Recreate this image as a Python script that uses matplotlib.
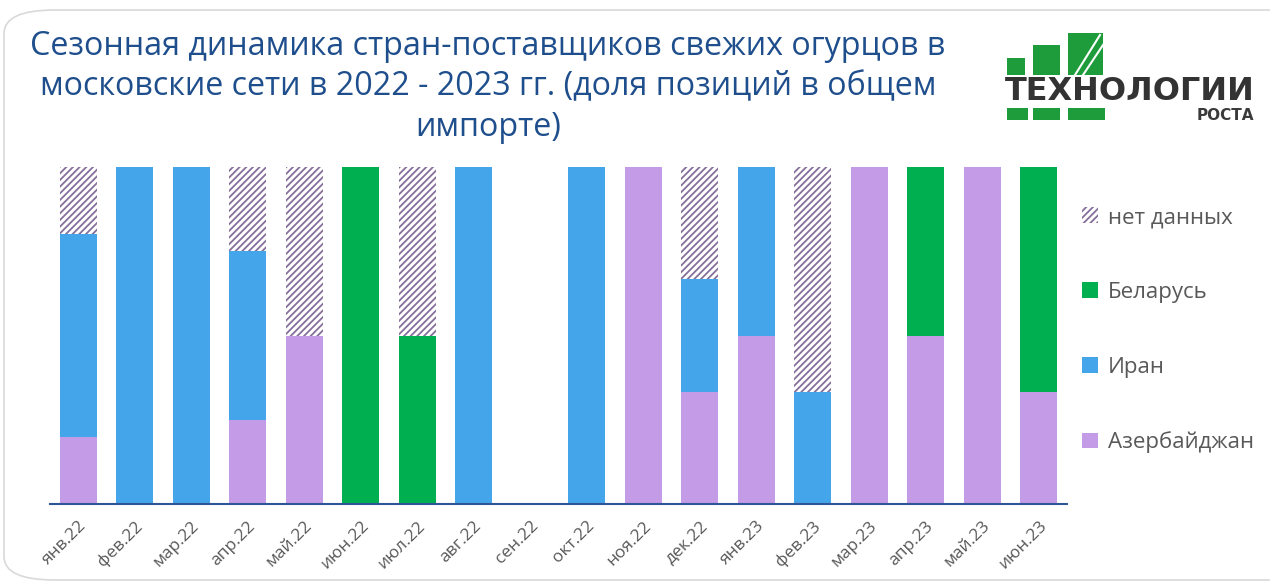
import matplotlib.pyplot as plt
from matplotlib.patches import Patch, Rectangle, FancyBboxPatch
import numpy as np

months = ["янв.22", "фев.22", "мар.22", "апр.22", "май.22", "июн.22", "июл.22",
          "авг.22", "сен.22", "окт.22", "ноя.22", "дек.22", "янв.23", "фев.23",
          "мар.23", "апр.23", "май.23", "июн.23"]
azerbaijan = [0.2, 0, 0, 0.25, 0.5, 0, 0, 0, 0, 0, 1.0, 1/3, 0.5, 0, 1.0, 0.5, 1.0, 1/3]
iran = [0.6, 1.0, 1.0, 0.5, 0, 0, 0, 1.0, 0, 1.0, 0, 1/3, 0.5, 1/3, 0, 0, 0, 0]
belarus = [0, 0, 0, 0, 0, 1.0, 0.5, 0, 0, 0, 0, 0, 0, 0, 0, 0.5, 0, 2/3]
no_data = [0.2, 0, 0, 0.25, 0.5, 0, 0.5, 0, 0, 0, 0, 1/3, 0, 2/3, 0, 0, 0, 0]

title = "Сезонная динамика стран-поставщиков свежих огурцов в\nмосковские сети в 2022 - 2023 гг. (доля позиций в общем\nимпорте)"

c_az = "#C39BE6"
c_ir = "#45A5EA"
c_by = "#00B050"
c_hatch = "#86709A"
grey = "#595959"

plt.rcParams['font.family'] = ['Open Sans', 'DejaVu Sans']
plt.rcParams['hatch.linewidth'] = 1.3

W, H = 1270, 586
fig = plt.figure(figsize=(W / 100, H / 100), dpi=100)


def px(x, y):
    return x / W, 1 - y / H


# rounded card border
fig.patches.append(FancyBboxPatch(px(4, 580), 1.2, (580 - 10) / H,
                                  boxstyle="round,pad=0,rounding_size=0.04",
                                  transform=fig.transFigure, facecolor="white",
                                  edgecolor="#D9D9D9", linewidth=1.2, zorder=-10))

ax = fig.add_axes([50 / W, 1 - 504 / H, 1017 / W, 337 / H])
x = np.arange(len(months))
w = 0.66
bottom = np.zeros(len(months))
ax.bar(x, azerbaijan, w, bottom=bottom, color=c_az)
bottom += azerbaijan
ax.bar(x, iran, w, bottom=bottom, color=c_ir)
bottom += iran
ax.bar(x, belarus, w, bottom=bottom, color=c_by)
bottom += belarus
ax.bar(x, no_data, w, bottom=bottom, color="white", edgecolor=c_hatch,
       hatch="/////", linewidth=0)

ax.set_xlim(-0.5, len(months) - 0.5)
ax.set_ylim(0, 1)
ax.set_yticks([])
for s in ["top", "right", "left"]:
    ax.spines[s].set_visible(False)
ax.spines["bottom"].set_color("#2F5597")
ax.spines["bottom"].set_linewidth(1.5)
ax.set_xticks(x)
ax.set_xticklabels(months, rotation=45, ha="right", rotation_mode="anchor",
                   fontsize=12.5, color=grey)
ax.tick_params(axis="x", length=0, pad=10)
ax.patch.set_alpha(0)

handles = [Patch(facecolor="white", edgecolor=c_hatch, hatch="/////", linewidth=0),
           Patch(facecolor=c_by), Patch(facecolor=c_ir), Patch(facecolor=c_az)]
labels = ["нет данных", "Беларусь", "Иран", "Азербайджан"]
fig.legend(handles, labels, loc="upper left", bbox_to_anchor=px(1062, 187),
           frameon=False, fontsize=16, labelcolor=grey, labelspacing=2.42,
           handlelength=0.7, handleheight=0.7, handletextpad=0.45)

fig.text(*px(488, 87), title, ha="center", va="center", fontsize=23.2,
         color="#1F4E8C", linespacing=1.3)

# logo
green = "#1E9B3A"
for (x0, y0, x1, y1) in [(1007, 58, 1025, 75), (1033, 45, 1060, 75), (1068, 33, 1103, 75),
                         (1007, 108, 1028, 120), (1033, 108, 1060, 120), (1068, 108, 1105, 120)]:
    fig.patches.append(Rectangle(px(x0, y1), (x1 - x0) / W, (y1 - y0) / H,
                                 transform=fig.transFigure, facecolor=green, edgecolor="none"))
fig.lines.append(plt.Line2D([1075 / W, 1100 / W], [1 - 75 / H, 1 - 35 / H],
                            transform=fig.transFigure, color="white", lw=1.5))
fig.lines.append(plt.Line2D([1083 / W, 1103 / W], [1 - 75 / H, 1 - 45 / H],
                            transform=fig.transFigure, color="white", lw=1.5))
fig.text(*px(1005, 92), "ТЕХНОЛОГИИ", ha="left", va="center", fontsize=23,
         fontweight="bold", color="#333333", family=["DejaVu Sans"])
fig.text(*px(1254, 115), "РОСТА", ha="right", va="center", fontsize=11,
         fontweight="bold", color="#3A3A3A", family=["DejaVu Sans"])

fig.savefig("out.png", dpi=100)
